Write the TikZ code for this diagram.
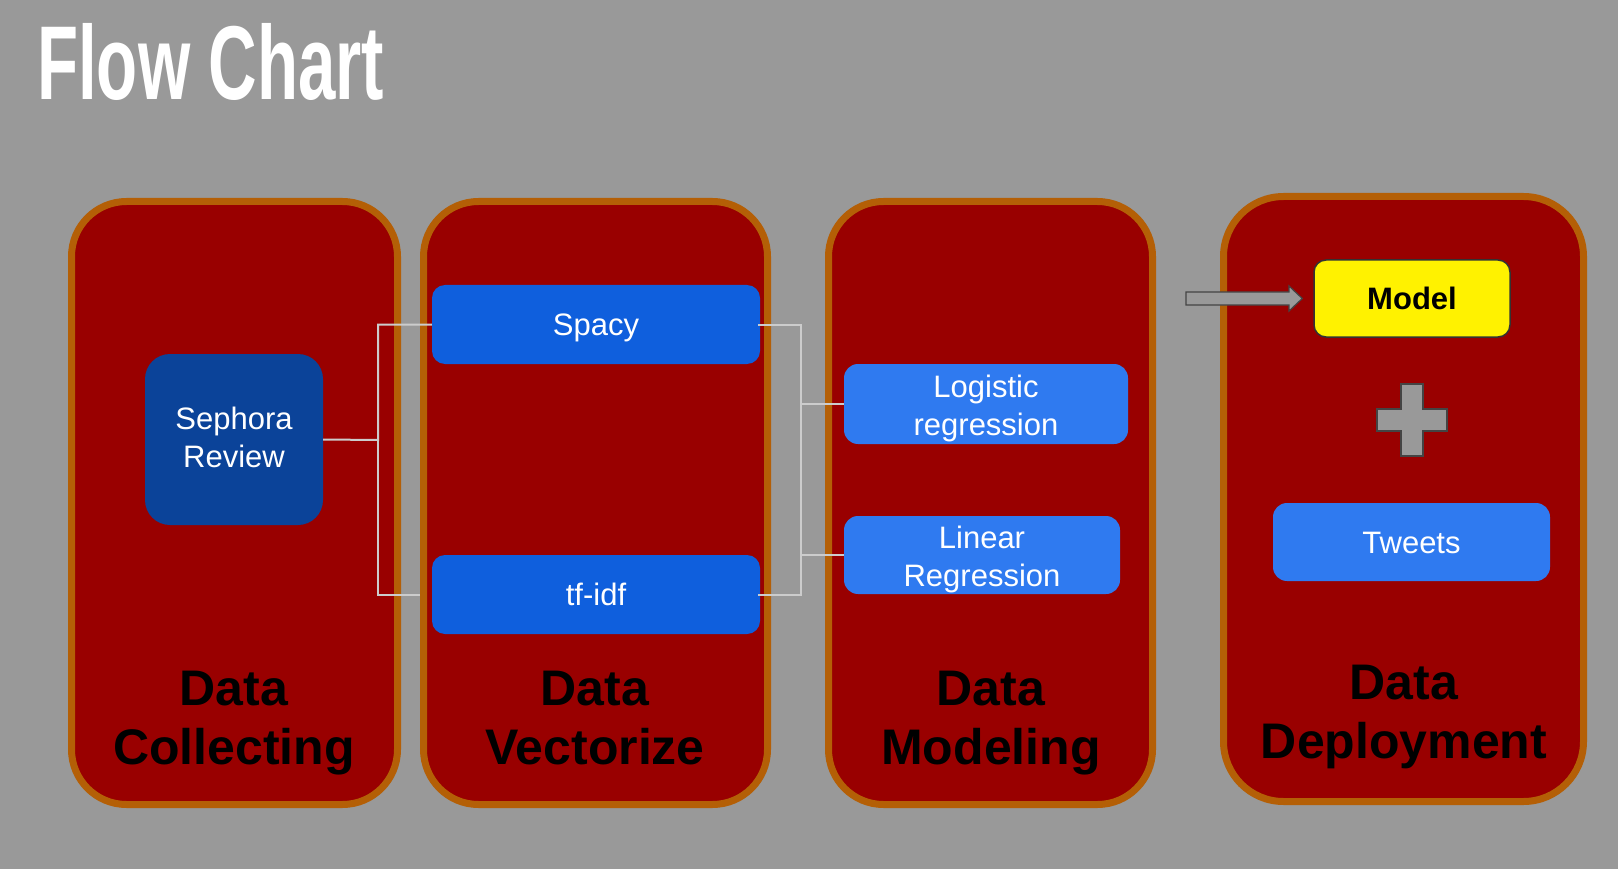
\documentclass[tikz,border=0pt]{standalone}
\usepackage{fontspec}
\setmainfont{Liberation Sans}
\newfontfamily\titlefont[FakeStretch=0.64]{Liberation Sans}
\definecolor{bggrey}{HTML}{999999}
\definecolor{panelred}{HTML}{990000}
\definecolor{panelorange}{HTML}{B45F06}
\definecolor{darkblue}{HTML}{0B4399}
\definecolor{midblue}{HTML}{0F5FDD}
\definecolor{lightblue}{HTML}{2F7AF0}
\definecolor{connline}{HTML}{CCCCCC}
\definecolor{edgegrey}{HTML}{444444}
\tikzset{
  panel/.style={draw=panelorange, fill=panelred, line width=7pt, rounded corners=55pt, inner sep=0pt},
  bigtext/.style={font=\fontsize{50}{59}\selectfont\bfseries, text=black, align=center, anchor=base},
  boxtext/.style={font=\fontsize{31}{38}\selectfont, text=white, align=center, inner sep=0pt},
  oneline/.style={text height=22pt, text depth=0pt},
  bluebox/.style={boxtext, oneline, fill=midblue, rounded corners=13pt},
  lbluebox/.style={boxtext, fill=lightblue, rounded corners=14pt},
  conn/.style={draw=connline, line width=2pt},
}
\begin{document}
\begin{tikzpicture}[x=1pt,y=-1pt]
\useasboundingbox[fill=bggrey] (0,0) rectangle (1618,869);
% title
\node[anchor=base west, inner sep=0pt, text=white, font=\titlefont\bfseries\fontsize{105}{110}\selectfont] (title) at (37,100) {Flow Chart};
% panels
\node[panel, minimum width=326pt, minimum height=603pt] (p1) at (234.5,503) {};
\node[panel, minimum width=344pt, minimum height=603pt] (p2) at (595.5,503) {};
\node[panel, minimum width=324pt, minimum height=603pt] (p3) at (990.5,503) {};
\node[panel, minimum width=360pt, minimum height=605pt, rounded corners=60pt] (p4) at (1403.5,499) {};
% panel labels (anchor = baseline of the last line)
\node[bigtext] (l1) at (234,764) {Data\\Collecting};
\node[bigtext] (l2) at (595,764) {Data\\Vectorize};
\node[bigtext] (l3) at (991,764) {Data\\Modeling};
\node[bigtext] (l4) at (1404,758) {Data\\Deployment};
% boxes
\node[boxtext, fill=darkblue, rounded corners=25pt, minimum width=178pt, minimum height=171pt,
  label={[boxtext, yshift=2.5pt]center:Sephora\\Review}] (seph) at (234,439.5) {};
\node[bluebox, minimum width=328pt, minimum height=79pt] (spacy) at (596,324.5) {Spacy};
\node[bluebox, minimum width=328pt, minimum height=79pt] (tfidf) at (596,594.5) {tf-idf};
\node[lbluebox, minimum width=284pt, minimum height=80pt,
  label={[boxtext, yshift=-4pt]center:Logistic\\regression}] (logit) at (986,404) {};
\node[lbluebox, minimum width=276pt, minimum height=78pt,
  label={[boxtext, yshift=-4.5pt]center:Linear\\Regression}] (linreg) at (982,555) {};
\node[lbluebox, oneline, minimum width=277pt, minimum height=78pt] (tweets) at (1411.5,542) {Tweets};
\node[draw=black!80, line width=1.5pt, fill=yellow, rounded corners=12pt, minimum width=196pt, minimum height=77pt, inner sep=0pt, font=\fontsize{31}{38}\selectfont\bfseries] (model) at (1412,298.5) {Model};
% connectors
\coordinate (j1) at (378,440);
\draw[conn] (seph.east) -- (j1) |- (spacy.west);
\draw[conn] (j1) |- ([xshift=-12pt]tfidf.west);
\coordinate (j2) at (801,459);
\draw[conn] ([xshift=-2pt]spacy.east) -| (j2) |- ([xshift=-2pt]tfidf.east);
\draw[conn] (j2|-logit.west) -- (logit.west);
\draw[conn] (j2|-linreg.west) -- (linreg.west);
% arrow into model
\draw[fill=bggrey, draw=edgegrey, line width=1.2pt]
  (1186,292) -- (1289,292) -- (1289,286) -- ([xshift=-11pt]model.west) -- (1289,311) -- (1289,305) -- (1186,305) -- cycle;
% plus sign
\draw[fill=bggrey, draw=edgegrey, line width=1.5pt]
  (1401,384) -- (1423,384) -- (1423,409) -- (1447,409) -- (1447,431) -- (1423,431) -- (1423,456)
  -- (1401,456) -- (1401,431) -- (1377,431) -- (1377,409) -- (1401,409) -- cycle;
\end{tikzpicture}
\end{document}
